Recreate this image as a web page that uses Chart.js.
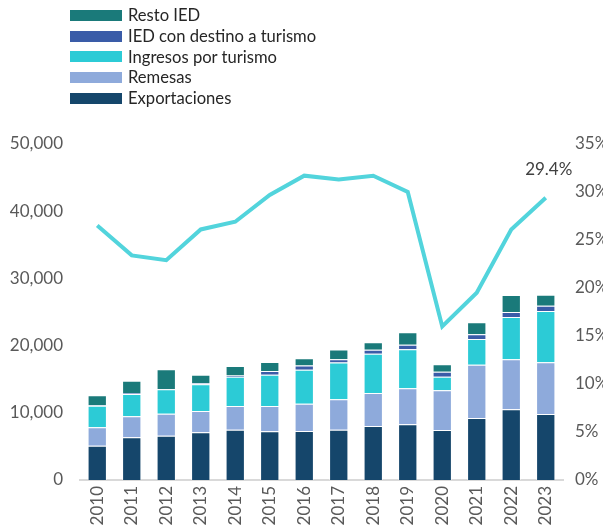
<!DOCTYPE html>
<html>
<head>
<meta charset="utf-8">
<script src="https://cdn.jsdelivr.net/npm/chart.js@4.4.0/dist/chart.umd.min.js"></script>
<style>
  html, body { margin: 0; padding: 0; background: #fff; overflow: hidden; }
  #wrap { position: relative; width: 603px; height: 531px; }
  #leyenda { position: absolute; left: 70px; top: 5px; font-family: Lato, sans-serif; font-size: 16.6px; color: #262626; }
  .item { height: 20.7px; display: flex; align-items: center; }
  .caja { width: 52px; height: 11px; margin-right: 6px; }
</style>
</head>
<body>
<div id="wrap">
  <canvas id="grafico" width="603" height="531"></canvas>
  <div id="leyenda"></div>
</div>
<script>
// datos
var anios = ['2010','2011','2012','2013','2014','2015','2016','2017','2018','2019','2020','2021','2022','2023'];
var exportaciones = [5100, 6350, 6600, 7100, 7490, 7240, 7300, 7460, 8040, 8290, 7440, 9230, 10520, 9820];
var remesas = [2740, 3130, 3270, 3170, 3520, 3770, 4030, 4570, 4910, 5360, 5910, 7930, 7440, 7690];
var ingresosTurismo = [3220, 3320, 3630, 3970, 4360, 4660, 5090, 5450, 5850, 5800, 2020, 3820, 6300, 7640];
var iedTurismo = [50, 150, 50, 160, 180, 550, 610, 480, 590, 690, 750, 700, 740, 790];
var restoIed = [1490, 1830, 2920, 1270, 1410, 1340, 1100, 1460, 1100, 1840, 1090, 1790, 2530, 1640];
var porcentaje = [26.5, 23.4, 22.9, 26.1, 26.9, 29.7, 31.7, 31.3, 31.7, 30.0, 16.0, 19.5, 26.1, 29.4];
var etiquetaFinal = '29.4%';

var fuente = 'Lato, sans-serif';

function barra(nombre, datos, color) {
    return {
        type: 'bar',
        label: nombre,
        data: datos,
        backgroundColor: color,
        borderColor: 'rgba(255,255,255,0.55)',
        borderWidth: 1,
        yAxisID: 'y',
        stack: 's',
        categoryPercentage: 0.56,
        barPercentage: 1,
        order: 2
    };
}

var datasets = [
    barra('Exportaciones', exportaciones, '#15466b'),
    barra('Remesas', remesas, '#8eaadb'),
    barra('Ingresos por turismo', ingresosTurismo, '#2ccbd6'),
    barra('IED con destino a turismo', iedTurismo, '#3a5ca8'),
    barra('Resto IED', restoIed, '#1a7a7a'),
    {
        type: 'line',
        label: 'porcentaje',
        data: porcentaje,
        borderColor: '#52d4dc',
        borderWidth: 4,
        pointRadius: 0,
        tension: 0,
        fill: false,
        yAxisID: 'y2',
        order: 1
    }
];

// leyenda en html, en orden invertido
var leyenda = document.getElementById('leyenda');
for (var i = 4; i >= 0; i--) {
    leyenda.innerHTML += `<div class="item"><div class="caja" style="background:${datasets[i].backgroundColor}"></div>${datasets[i].label}</div>`;
}

// etiqueta del ultimo punto
const etiquetaPlugin = {
    id: 'etiqueta',
    afterDatasetsDraw(chart) {
        const meta = chart.getDatasetMeta(5);
        const p = meta.data[meta.data.length - 1];
        const ctx = chart.ctx;
        ctx.save();
        ctx.font = '17px ' + fuente;
        ctx.fillStyle = '#404040';
        ctx.textAlign = 'center';
        ctx.textBaseline = 'middle';
        ctx.fillText(etiquetaFinal, p.x + 3, p.y - 28);
        ctx.restore();
    }
};

const config = {
    data: { labels: anios, datasets: datasets },
    options: {
        responsive: false,
        animation: false,
        layout: { padding: { top: 144, left: 0, right: 0, bottom: 0 } },
        plugins: { legend: { display: false }, tooltip: { enabled: false } },
        scales: {
            x: {
                stacked: true,
                grid: { display: false, drawTicks: false },
                border: { color: '#d9d9d9', width: 2 },
                ticks: {
                    color: '#595959',
                    font: { family: fuente, size: 17 },
                    maxRotation: 90, minRotation: 90,
                    padding: 6
                },
                afterFit: function (s) { s.height = 51; }
            },
            y: {
                stacked: true,
                min: 0, max: 50000,
                grid: { display: false, drawTicks: false },
                border: { display: false },
                ticks: {
                    stepSize: 10000,
                    color: '#595959',
                    font: { family: fuente, size: 17 },
                    padding: 17,
                    callback: function (v) { return v.toLocaleString('en-US'); }
                },
                afterFit: function (s) { s.width = 80; }
            },
            y2: {
                position: 'right',
                min: 0, max: 35,
                grid: { display: false, drawTicks: false },
                border: { display: false },
                ticks: {
                    stepSize: 5,
                    color: '#595959',
                    font: { family: fuente, size: 17 },
                    padding: 12,
                    callback: function (v) { return v + '%'; }
                },
                afterFit: function (s) { s.width = 40; }
            }
        }
    },
    plugins: [etiquetaPlugin]
};

const grafico = new Chart(document.getElementById('grafico'), config);
</script>
</body>
</html>
